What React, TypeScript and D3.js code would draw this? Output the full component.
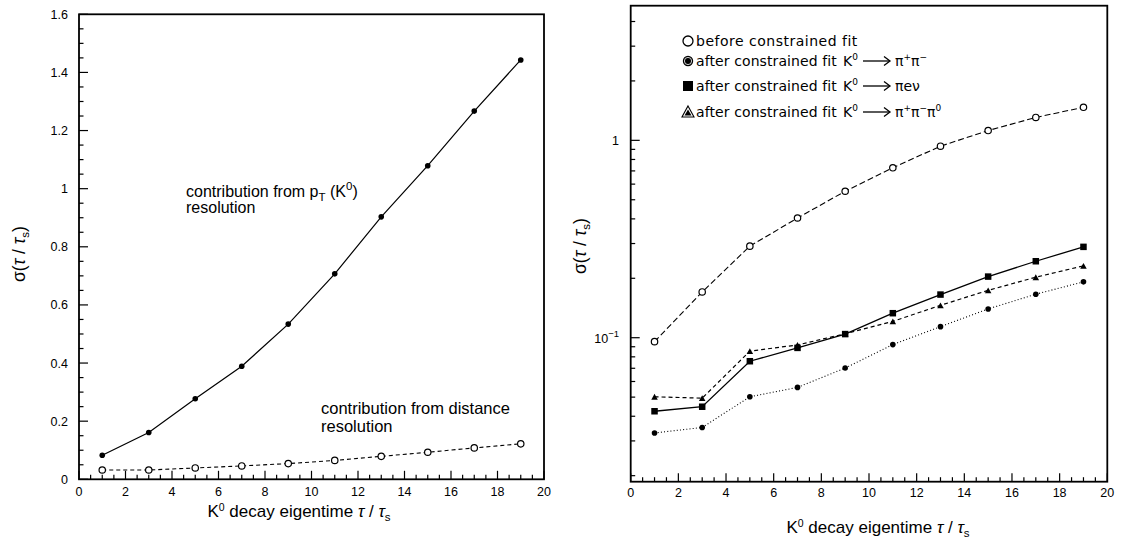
import React from "react";
import * as d3 from "d3";

// ---- data ----
const taus = [1, 3, 5, 7, 9, 11, 13, 15, 17, 19];
const leftMomentum = [0.083, 0.161, 0.277, 0.389, 0.534, 0.707, 0.903, 1.079, 1.267, 1.443];
const leftDistance = [0.032, 0.032, 0.039, 0.046, 0.054, 0.065, 0.079, 0.093, 0.108, 0.122];
const beforeFit = [0.0955, 0.1705, 0.291, 0.404, 0.552, 0.726, 0.934, 1.121, 1.306, 1.47];
const fitPiPi = [0.0329, 0.0351, 0.0502, 0.056, 0.0702, 0.0923, 0.1138, 0.1399, 0.1661, 0.1919];
const fitPiENu = [0.0424, 0.0447, 0.076, 0.0888, 0.1043, 0.1331, 0.1654, 0.204, 0.244, 0.2886];
const fitPi3 = [0.0502, 0.0494, 0.0855, 0.0919, 0.1047, 0.121, 0.1459, 0.1738, 0.2025, 0.2313];

const xMajorTicks = [0, 2, 4, 6, 8, 10, 12, 14, 16, 18, 20];
const xTickLabels = ["0", "2", "4", "6", "8", "10", "12", "14", "16", "18", "20"];
const leftYMajor = [0, 0.2, 0.4, 0.6, 0.8, 1, 1.2, 1.4, 1.6];
const leftYLabels = ["0", "0.2", "0.4", "0.6", "0.8", "1", "1.2", "1.4", "1.6"];
const logMajor = [0.1, 1];
const legendPrefix = ["before constrained fit", "after constrained fit", "after constrained fit", "after constrained fit"];

const FONT = "'Liberation Sans', Arial, Helvetica, sans-serif";
const LEG_FONT = "'DejaVu Sans', sans-serif";

const range = (a: number, b: number, s: number) => {
  const out: number[] = [];
  for (let v = a; v <= b + 1e-9; v += s) out.push(+v.toFixed(6));
  return out;
};

function Frame({ x0, x1, y0, y1 }: any) {
  return (
    <rect x={x0} y={y0} width={x1 - x0} height={y1 - y0} fill="none" stroke="#000" strokeWidth={1.8} />
  );
}

function FilledCircle({ cx, cy, r = 2.8 }: any) {
  return <circle cx={cx} cy={cy} r={r} fill="#000" />;
}
function OpenCircle({ cx, cy, r = 3.2 }: any) {
  return <circle cx={cx} cy={cy} r={r} fill="#fff" stroke="#000" strokeWidth={1.2} />;
}
function Square({ cx, cy, s = 6.5 }: any) {
  return <rect x={cx - s / 2} y={cy - s / 2} width={s} height={s} fill="#000" />;
}
function Triangle({ cx, cy, s = 6.5 }: any) {
  const h = s * 0.9;
  return <path d={`M${cx},${cy - h / 2}L${cx + s / 2},${cy + h / 2}L${cx - s / 2},${cy + h / 2}Z`} fill="#000" />;
}

function Arrow({ x, y }: any) {
  return (
    <g stroke="#000" strokeWidth={1.3} fill="none">
      <line x1={x} y1={y} x2={x + 26} y2={y} />
      <path d={`M${x + 21},${y - 4.5}L${x + 27},${y}L${x + 21},${y + 4.5}`} />
    </g>
  );
}

function AxisTitle({ x, y }: any) {
  return (
    <text x={x} y={y} fontSize={17} textAnchor="middle">
      K<tspan fontSize={10.5} dy={-6.5}>0</tspan>
      <tspan dy={6.5}> decay eigentime </tspan>
      <tspan fontStyle="italic">τ</tspan>
      <tspan> / </tspan>
      <tspan fontStyle="italic">τ</tspan>
      <tspan fontSize={11.5} dy={4}>s</tspan>
    </text>
  );
}

function YTitle({ x, y }: any) {
  return (
    <text transform={`translate(${x},${y}) rotate(-90)`} fontSize={17.5} textAnchor="middle">
      σ(<tspan fontStyle="italic">τ</tspan> / <tspan fontStyle="italic">τ</tspan>
      <tspan fontSize={11.5} dy={4}>s</tspan>
      <tspan dy={-4}>)</tspan>
    </text>
  );
}

export default function App() {
  const xL = d3.scaleLinear().domain([0, 20]).range([79, 544]);
  const yL = d3.scaleLinear().domain([0, 1.6]).range([479.3, 14.3]);
  const xR = d3.scaleLinear().domain([0, 20]).range([630.7, 1107.3]);
  const yR = d3.scaleLog().domain([0.01864, 4.81]).range([481.7, 5.7]);

  const lineL = d3
    .line<number>()
    .x((_, i) => xL(taus[i]))
    .y((d) => yL(d));
  const lineR = d3
    .line<number>()
    .x((_, i) => xR(taus[i]))
    .y((d) => yR(d));

  const xMinor = range(0, 20, 0.5).filter((v) => Math.abs(v % 2) > 1e-6);
  const leftYMinor = range(0, 1.6, 0.05).filter((v) => Math.abs(v * 5 - Math.round(v * 5)) > 1e-6);
  const logMinor: number[] = [];
  [0.01, 0.1, 1].forEach((dec) => {
    for (let k = 2; k <= 9; k++) {
      const v = dec * k;
      if (v >= 0.01864 && v <= 4.81) logMinor.push(v);
    }
  });

  const tickFont = 12.5;
  const supSize = 9;

  return (
    <svg
      width={1122}
      height={538}
      style={{ position: "absolute", left: 0, top: 0, background: "#fff" }}
      fontFamily={FONT}
    >
      <rect x={0} y={0} width={1122} height={538} fill="#fff" />

      {/* ===== LEFT PANEL ===== */}
      <g>
        {xMajorTicks.map((t) => (
          <line key={"lxM" + t} x1={xL(t)} x2={xL(t)} y1={479.3} y2={479.3 - 8.5} stroke="#000" strokeWidth={1.2} />
        ))}
        {xMinor.map((t) => (
          <line key={"lxm" + t} x1={xL(t)} x2={xL(t)} y1={479.3} y2={479.3 - 4.5} stroke="#000" strokeWidth={1.2} />
        ))}
        {xMajorTicks.map((t, i) => (
          <text key={"lxl" + t} x={xL(t)} y={496} fontSize={tickFont} textAnchor="middle">
            {xTickLabels[i]}
          </text>
        ))}
        {leftYMajor.map((t) => (
          <line key={"lyM" + t} x1={79} x2={79 + 9} y1={yL(t)} y2={yL(t)} stroke="#000" strokeWidth={1.2} />
        ))}
        {leftYMinor.map((t) => (
          <line key={"lym" + t} x1={79} x2={79 + 4.5} y1={yL(t)} y2={yL(t)} stroke="#000" strokeWidth={1.2} />
        ))}
        {leftYMajor.map((t, i) => (
          <text key={"lyl" + t} x={68} y={yL(t) + 4.5} fontSize={tickFont} textAnchor="end">
            {leftYLabels[i]}
          </text>
        ))}
        <Frame x0={79} x1={544} y0={14.3} y1={479.3} />

        <path d={lineL(leftMomentum) || ""} fill="none" stroke="#000" strokeWidth={1.2} />
        <path d={lineL(leftDistance) || ""} fill="none" stroke="#000" strokeWidth={1.1} strokeDasharray="4,3" />
        {leftMomentum.map((v, i) => (
          <FilledCircle key={"lm" + i} cx={xL(taus[i])} cy={yL(v)} />
        ))}
        {leftDistance.map((v, i) => (
          <OpenCircle key={"ld" + i} cx={xL(taus[i])} cy={yL(v)} />
        ))}

        <text x={186} y={197} fontSize={16}>
          contribution from p
          <tspan fontSize={11.5} dy={4}>T</tspan>
          <tspan dy={-4}> (K</tspan>
          <tspan fontSize={11.5} dy={-7}>0</tspan>
          <tspan dy={7}>)</tspan>
        </text>
        <text x={186} y={213} fontSize={16}>
          resolution
        </text>
        <text x={321} y={414} fontSize={16.5}>
          contribution from distance
        </text>
        <text x={321} y={432} fontSize={16.5}>
          resolution
        </text>

        <AxisTitle x={299} y={517} />
        <YTitle x={25} y={254} />
      </g>

      {/* ===== RIGHT PANEL ===== */}
      <g>
        {xMajorTicks.map((t) => (
          <line key={"rxM" + t} x1={xR(t)} x2={xR(t)} y1={481.7} y2={481.7 - 8.5} stroke="#000" strokeWidth={1.2} />
        ))}
        {xMinor.map((t) => (
          <line key={"rxm" + t} x1={xR(t)} x2={xR(t)} y1={481.7} y2={481.7 - 4.5} stroke="#000" strokeWidth={1.2} />
        ))}
        {xMajorTicks.map((t, i) => (
          <text key={"rxl" + t} x={xR(t)} y={497} fontSize={tickFont} textAnchor="middle">
            {xTickLabels[i]}
          </text>
        ))}
        {logMajor.map((t) => (
          <line key={"ryM" + t} x1={630.7} x2={630.7 + 9} y1={yR(t)} y2={yR(t)} stroke="#000" strokeWidth={1.2} />
        ))}
        {logMinor.map((t) => (
          <line key={"rym" + t} x1={630.7} x2={630.7 + 4.5} y1={yR(t)} y2={yR(t)} stroke="#000" strokeWidth={1.2} />
        ))}
        <text x={619} y={yR(1) + 4.5} fontSize={tickFont} textAnchor="end">
          1
        </text>
        <text x={619} y={yR(0.1) + 5} fontSize={tickFont} textAnchor="end">
          10<tspan fontSize={9.5} dy={-6}>−1</tspan>
        </text>
        <Frame x0={630.7} x1={1107.3} y0={5.7} y1={481.7} />

        <path d={lineR(beforeFit) || ""} fill="none" stroke="#000" strokeWidth={1.1} strokeDasharray="6,3" />
        <path d={lineR(fitPiENu) || ""} fill="none" stroke="#000" strokeWidth={1.3} />
        <path d={lineR(fitPi3) || ""} fill="none" stroke="#000" strokeWidth={1.2} strokeDasharray="4,3" />
        <path d={lineR(fitPiPi) || ""} fill="none" stroke="#000" strokeWidth={1.1} strokeDasharray="1,2.2" />
        {beforeFit.map((v, i) => (
          <OpenCircle key={"rb" + i} cx={xR(taus[i])} cy={yR(v)} />
        ))}
        {fitPiENu.map((v, i) => (
          <Square key={"rs" + i} cx={xR(taus[i])} cy={yR(v)} />
        ))}
        {fitPi3.map((v, i) => (
          <Triangle key={"rt" + i} cx={xR(taus[i])} cy={yR(v)} />
        ))}
        {fitPiPi.map((v, i) => (
          <FilledCircle key={"rp" + i} cx={xR(taus[i])} cy={yR(v)} />
        ))}

        {/* legend */}
        <g fontFamily={LEG_FONT} fontSize={14} letterSpacing={0.1}>
          <circle cx={688} cy={41} r={5} fill="#fff" stroke="#000" strokeWidth={1.3} />
          <text x={696} y={46} letterSpacing={0.5}>{legendPrefix[0]}</text>

          <circle cx={688} cy={61} r={5.2} fill="#000" />
          <circle cx={688} cy={61} r={3.6} fill="none" stroke="#fff" strokeWidth={0.8} />
          <text x={696} y={66}>{legendPrefix[1]}</text>
          <text x={843} y={66}>
            K<tspan fontSize={supSize} dy={-6}>0</tspan>
          </text>
          <Arrow x={863} y={61} />
          <text x={895} y={66} letterSpacing={0}>
            π<tspan fontSize={supSize} dy={-6}>+</tspan>
            <tspan dy={6}>π</tspan>
            <tspan fontSize={supSize} dy={-6}>−</tspan>
          </text>

          <rect x={683} y={81} width={10} height={10} fill="#000" />
          <text x={696} y={91}>{legendPrefix[2]}</text>
          <text x={843} y={91}>
            K<tspan fontSize={supSize} dy={-6}>0</tspan>
          </text>
          <Arrow x={863} y={86} />
          <text x={895} y={91} letterSpacing={0}>
            πeν
          </text>

          <path d="M688,106L694,117L682,117Z" fill="none" stroke="#000" strokeWidth={1.1} />
          <path d="M688,109.5L691.5,115.5L684.5,115.5Z" fill="#000" />
          <text x={696} y={117}>{legendPrefix[3]}</text>
          <text x={843} y={117}>
            K<tspan fontSize={supSize} dy={-6}>0</tspan>
          </text>
          <Arrow x={863} y={112} />
          <text x={895} y={117} letterSpacing={0}>
            π<tspan fontSize={supSize} dy={-6}>+</tspan>
            <tspan dy={6}>π</tspan>
            <tspan fontSize={supSize} dy={-6}>−</tspan>
            <tspan dy={6}>π</tspan>
            <tspan fontSize={supSize} dy={-6}>0</tspan>
          </text>
        </g>

        <AxisTitle x={878} y={533} />
        <YTitle x={586} y={246} />
      </g>
    </svg>
  );
}
